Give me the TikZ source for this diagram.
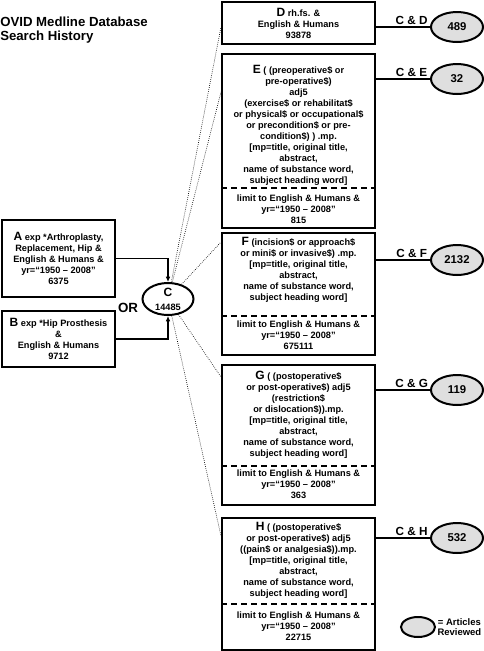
\documentclass[tikz,border=0pt]{standalone}
\usepackage{fontspec}
\setmainfont{Liberation Sans}
\usetikzlibrary{arrows.meta,shapes.geometric}
\newcommand\qsize{\fontsize{6.9}{8.25}\selectfont}
\newcommand\qlet[1]{{\fontsize{9}{8.25}\selectfont #1}}
\tikzset{
  qbox/.style={draw, line width=1.5pt, minimum width=114.75pt, inner sep=0pt, align=center, font=\bfseries\qsize},
  qtext/.style={align=center, font=\bfseries\qsize, inner sep=0pt},
  hits/.style={ellipse, draw, line width=1.5pt, fill=gray!25, minimum width=39pt, minimum height=22.5pt, inner sep=0pt, font=\bfseries\fontsize{8.5}{10}\selectfont},
  cut/.style={line width=1.5pt, dash pattern=on 4.5pt off 3pt},
  hitline/.style={line width=0.8pt},
  spoke/.style={densely dotted, line width=0.5pt},
  feed/.style={line width=1.2pt, -{Latex[length=4pt,width=3.5pt]}},
  pair/.style={font=\bfseries\fontsize{8.8}{10}\selectfont, inner sep=1.5pt}
}
\begin{document}
\begin{tikzpicture}[x=0.75pt,y=-0.75pt]
    \useasboundingbox (0,0) rectangle (484,651);

    \node[anchor=west, align=left, inner sep=0pt, font=\bfseries\fontsize{9.9}{10.5}\selectfont] (title) at (0,30) {OVID Medline Database\\Search History};

    % first two searches, combined with OR
    \node[qbox, minimum width=84.75pt, minimum height=57.75pt] (A) at (58.5,258.5) {\qlet{A} exp *Arthroplasty,\\Replacement, Hip \&\\English \& Humans \&\\yr=“1950 – 2008”\\6375};
    \node[qbox, minimum width=84.75pt, minimum height=42pt] (B) at (58.5,339) {\qlet{B} exp *Hip Prosthesis\\\&\\English \& Humans\\9712};
    \node[ellipse, draw, line width=1.5pt, minimum width=38.25pt, minimum height=24pt, inner sep=0pt, align=center, font=\bfseries\fontsize{6.9}{10.5}\selectfont] (C) at (168,299) {\qlet{C}\\14485};
    \node[font=\bfseries\fontsize{10}{12}\selectfont] (or) at (128,308) {OR};
    \draw[feed] (A.east) -| (C);
    \draw[feed] (B.east) -| (C);

    % second searches
    \node[qbox, minimum height=31.5pt] (D) at (298.5,23) {\qlet{D} rh.fs. \&\\English \& Humans\\93878};

    \node[qbox, minimum height=130.5pt] (E) at (298.5,141) {};
    \node[qtext] (Eq) at (298.5,125.5) {\qlet{E} ( (preoperative\$ or\\pre-operative\$)\\adj5\\(exercise\$ or rehabilitat\$\\or physical\$ or occupational\$\\or precondition\$ or pre-\\condition\$) ) .mp.\\{}[mp=title, original title,\\abstract,\\name of substance word,\\subject heading word]};
    \draw[cut] (E.west |- 0,188) -- (E.east |- 0,188);
    \node[qtext] (El) at (298.5,209) {limit to English \& Humans \&\\yr=“1950 – 2008”\\815};

    \node[qbox, minimum height=91.5pt] (F) at (298.5,294) {};
    \node[qtext] (Fq) at (298.5,270) {\qlet{F} (incision\$ or approach\$\\or mini\$ or invasive\$) .mp.\\{}[mp=title, original title,\\abstract,\\name of substance word,\\subject heading word]};
    \draw[cut] (F.west |- 0,316) -- (F.east |- 0,316);
    \node[qtext] (Fl) at (298.5,335) {limit to English \& Humans \&\\yr=“1950 – 2008”\\675111};

    \node[qbox, minimum height=105pt] (G) at (298.5,435) {};
    \node[qtext] (Gq) at (298.5,414.5) {\qlet{G} ( (postoperative\$\\or post-operative\$) adj5\\(restriction\$\\or dislocation\$)).mp.\\{}[mp=title, original title,\\abstract,\\name of substance word,\\subject heading word]};
    \draw[cut] (G.west |- 0,466) -- (G.east |- 0,466);
    \node[qtext] (Gl) at (298.5,484) {limit to English \& Humans \&\\yr=“1950 – 2008”\\363};

    \node[qbox, minimum height=99pt] (H) at (298.5,584) {};
    \node[qtext] (Hq) at (298.5,560) {\qlet{H} ( (postoperative\$\\or post-operative\$) adj5\\((pain\$ or analgesia\$)).mp.\\{}[mp=title, original title,\\abstract,\\name of substance word,\\subject heading word]};
    \draw[cut] (H.west |- 0,604) -- (H.east |- 0,604);
    \node[qtext] (Hl) at (298.5,626.5) {limit to English \& Humans \&\\yr=“1950 – 2008”\\22715};

    % C combined with each
    \draw[spoke] (C) -- ([yshift=-3pt]D.west);
    \draw[spoke] (C) -- ([yshift=-29.25pt]E.north west);
    \draw[spoke] (C) -- ([yshift=-7.5pt]F.north west);
    \draw[spoke] (C) -- ([yshift=-9.75pt]G.north west);
    \draw[spoke] (C) -- ([yshift=-14.25pt]H.north west);

    % results
    \node[hits] (Do) at (457,27) {489};
    \node[hits] (Eo) at (457,79) {32};
    \node[hits] (Fo) at (457,260) {2132};
    \node[hits] (Go) at (457,390) {119};
    \node[hits] (Ho) at (457,538) {532};
    \draw[hitline] (D.east |- Do) -- node[pair, above, pos=0.66] (Dl) {C \& D} (Do);
    \draw[hitline] (E.east |- Eo) -- node[pair, above, pos=0.66] (El2) {C \& E} (Eo);
    \draw[hitline] (F.east |- Fo) -- node[pair, above, pos=0.66] (Fl2) {C \& F} (Fo);
    \draw[hitline] (G.east |- Go) -- node[pair, above, pos=0.66] (Gl2) {C \& G} (Go);
    \draw[hitline] (H.east |- Ho) -- node[pair, above, pos=0.66] (Hl2) {C \& H} (Ho);

    % key
    \node[hits, minimum width=25.5pt, minimum height=15pt] (key) at (418,627) {};
    \node[anchor=west, align=center, inner sep=1pt, font=\bfseries\fontsize{7.1}{7.5}\selectfont] (keytext) at (key.east) {= Articles\\Reviewed};
\end{tikzpicture}
\end{document}
